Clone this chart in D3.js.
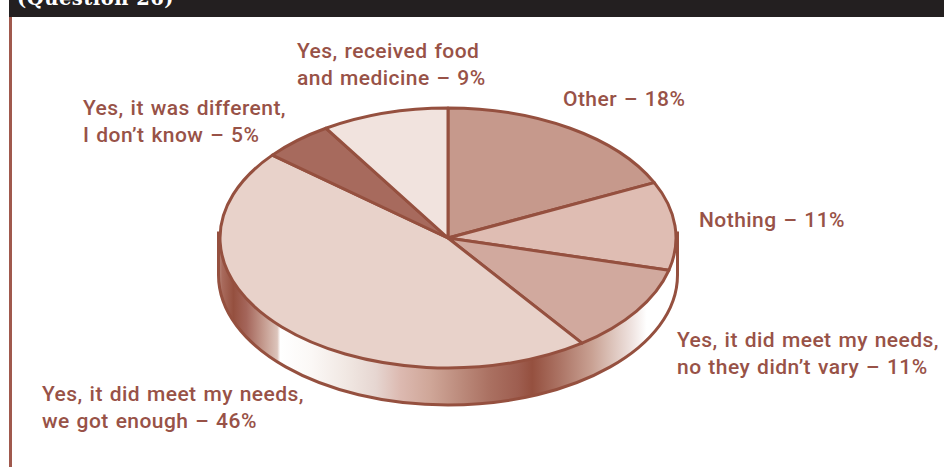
<!DOCTYPE html>
<html>
<head>
<meta charset="utf-8">
<script src="https://cdn.jsdelivr.net/npm/d3@7"></script>
<style>
  html, body { margin: 0; padding: 0; background: #fff; }
  text { font-family: Roboto, sans-serif; font-size: 21px; fill: #985247; letter-spacing: 0.45px; word-spacing: 1.2px; font-weight: 500; }
</style>
</head>
<body>
<svg id="chart" width="944" height="467"></svg>
<script>
"use strict";

const categories = [
  "Other",
  "Nothing",
  "Yes, it did meet my needs, no they didn't vary",
  "Yes, it did meet my needs, we got enough",
  "Yes, it was different, I don't know",
  "Yes, received food and medicine",
];
const shares = [18, 11, 11, 46, 5, 9];
const sliceColors = ["#c6998c", "#dfbdb3", "#d1a99e", "#e8d2ca", "#a76a5d", "#f1e3de"];
const labelLines = [
  ["Other \u2013 18%"],
  ["Nothing \u2013 11%"],
  ["Yes, it did meet my needs,", "no they didn\u2019t vary \u2013 11%"],
  ["Yes, it did meet my needs,", "we got enough \u2013 46%"],
  ["Yes, it was different,", "I don\u2019t know \u2013 5%"],
  ["Yes, received food", "and medicine \u2013 9%"],
];
const labelAnchors = [[563, 106], [699, 227], [677, 347], [42, 401], [83, 115], [297, 58]];
const titleText = "(Question 26)";

const rimColor = "#95503f";
const cx = 448, cy = 238, rx = 228, ry = 130, depth = 37;
const wallRx = rx + 1.5;
const kappa = 0.5523;

const svg = d3.select("#chart");

// header bar and left rule
svg.append("rect").attr("x", 9).attr("y", 0).attr("width", 935).attr("height", 17).attr("fill", "#231f20");
svg.append("rect").attr("x", 9).attr("y", 17).attr("width", 3).attr("height", 450).attr("fill", "#a0594d");
svg.append("text")
  .attr("x", 17).attr("y", 5)
  .style("font-family", '"DejaVu Serif", serif')
  .style("font-size", "19.5px")
  .style("font-weight", "700")
  .style("letter-spacing", "0.5px")
  .style("word-spacing", "0")
  .style("fill", "#fff")
  .text(titleText);

// metallic shading on the side wall
const wallStops = [
  [217, "#b98a7e"], [221, "#a86a5c"], [232, "#95503f"], [245, "#a4655a"], [262, "#c49a8e"], [276, "#dcc4bb"],
  [279, "#ffffff"], [310, "#fbf8f6"], [345, "#f1e8e3"], [375, "#e6d6d1"], [400, "#dcb9b0"],
  [430, "#cfa698"], [460, "#bc8b7c"], [490, "#aa7061"], [518, "#9e5e50"], [532, "#95503f"], [560, "#ac7465"],
  [592, "#c9a193"], [612, "#dcc3ba"], [632, "#efe3e0"], [647, "#ffffff"], [678, "#ffffff"],
];
const gradX = d3.scaleLinear().domain([217, 678]).range([0, 100]);
const defs = svg.append("defs");
defs.append("linearGradient").attr("id", "wall")
  .selectAll("stop").data(wallStops).join("stop")
  .attr("offset", (d) => gradX(d[0]) + "%")
  .attr("stop-color", (d) => d[1]);

const wall = d3.path();
wall.moveTo(cx - wallRx, cy - 5);
wall.lineTo(cx - wallRx, cy + depth);
wall.bezierCurveTo(cx - wallRx, cy + depth + ry * kappa, cx - wallRx * kappa, cy + depth + ry, cx, cy + depth + ry);
wall.bezierCurveTo(cx + wallRx * kappa, cy + depth + ry, cx + wallRx, cy + depth + ry * kappa, cx + wallRx, cy + depth);
wall.lineTo(cx + wallRx, cy - 5);
wall.closePath();
svg.append("path")
  .attr("d", wall.toString())
  .attr("fill", "url(#wall)")
  .attr("stroke", rimColor)
  .attr("stroke-width", 3);

// top face: a d3 pie squashed vertically into an ellipse
const pie = d3.pie().sort(null).value((d) => d);
const arc = d3.arc().innerRadius(0).outerRadius(rx);
const face = svg.append("g")
  .attr("transform", `translate(${cx},${cy}) scale(1,${ry / rx})`);
face.selectAll("path")
  .data(pie(shares))
  .join("path")
  .attr("d", arc)
  .attr("fill", (d, i) => sliceColors[i])
  .attr("stroke", rimColor)
  .attr("stroke-width", 3)
  .attr("stroke-linejoin", "round")
  .attr("vector-effect", "non-scaling-stroke");

// labels
const labels = svg.append("g").selectAll("text")
  .data(labelLines)
  .join("text")
  .attr("transform", (d, i) => `translate(${labelAnchors[i][0]},${labelAnchors[i][1]})`);
labels.selectAll("tspan")
  .data((d) => d)
  .join("tspan")
  .attr("x", 0)
  .attr("y", (d, i) => i * 27)
  .text((d) => d);
</script>
</body>
</html>
